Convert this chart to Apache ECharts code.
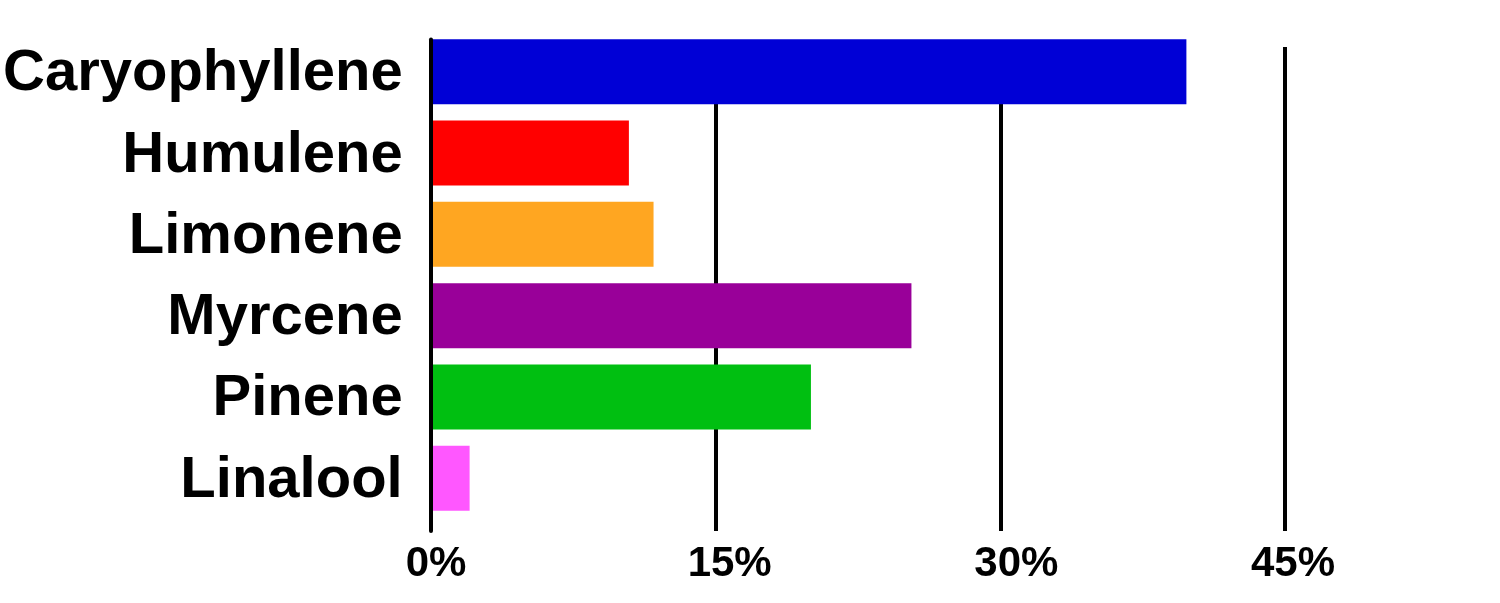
<!DOCTYPE html>
<html>
<head>
<meta charset="utf-8">
<script src="https://cdn.jsdelivr.net/npm/echarts@6/dist/echarts.min.js"></script>
<style>
html,body{margin:0;padding:0;background:#fff;}
#chart{width:1500px;height:603px;}
</style>
</head>
<body>
<div id="chart"></div>
<script>
const categories = ['Caryophyllene', 'Humulene', 'Limonene', 'Myrcene', 'Pinene', 'Linalool'];
const values = [39.8, 10.4, 11.7, 25.3, 20.0, 2.0];
const tickValues = [0, 15, 30, 45];
const barColors = ['#0000D6', '#FF0000', '#FFA621', '#990099', '#00BF11', '#FF57FF'];

const FONT = "'Liberation Sans', Arial, sans-serif";
const labelShift = {0: 10, 15: 28, 30: 32, 45: 16};
const rich = {};
tickValues.forEach(v => {
  rich['o' + v] = {padding: [0, 0, 0, labelShift[v]], fontSize: 42, fontWeight: 'bold', fontFamily: FONT, color: '#000'};
});

const chart = echarts.init(document.getElementById('chart'), null, {renderer: 'canvas'});
chart.setOption({
  animation: false,
  backgroundColor: '#fff',
  grid: [
    {left: 431, right: 215, top: 31.2, bottom: 84.2, containLabel: false},
    {left: 431, right: 215, top: 47, bottom: 72, containLabel: false},
    {left: 431, right: 215, top: 39.5, bottom: 72, containLabel: false}
  ],
  xAxis: [
    {gridIndex: 0, type: 'value', min: 0, max: 45, interval: 15, show: false},
    {gridIndex: 1, type: 'value', min: 0, max: 45, interval: 15,
      axisLine: {show: false}, axisTick: {show: false},
      splitLine: {show: true, lineStyle: {color: '#000', width: 4}},
      axisLabel: {
        margin: 12,
        formatter: v => '{o' + v + '|' + v + '%}',
        rich: rich,
        fontSize: 42, fontWeight: 'bold', fontFamily: FONT, color: '#000'
      }
    },
    {gridIndex: 2, type: 'value', min: 0, max: 45, show: false}
  ],
  yAxis: [
    {gridIndex: 0, type: 'category', data: categories, inverse: true,
      axisLine: {show: false}, axisTick: {show: false}, splitLine: {show: false},
      axisLabel: {
        margin: 29,
        formatter: v => '{c|' + v + '}',
        rich: {c: {padding: [5, 0, 0, 0], fontSize: 58, fontWeight: 'bold', fontFamily: FONT, color: '#000'}},
        fontSize: 58, fontWeight: 'bold', fontFamily: FONT, color: '#000'
      }
    },
    {gridIndex: 1, type: 'value', min: 0, max: 1, show: false},
    {gridIndex: 2, type: 'value', min: 0, max: 1, z: 10,
      axisLine: {show: true, lineStyle: {color: '#000', width: 4}},
      axisTick: {show: false}, axisLabel: {show: false}, splitLine: {show: false}
    }
  ],
  series: [{
    type: 'bar',
    xAxisIndex: 0,
    yAxisIndex: 0,
    barCategoryGap: '20%',
    data: values.map((v, i) => ({value: v, itemStyle: {color: barColors[i]}}))
  }]
});
</script>
</body>
</html>
